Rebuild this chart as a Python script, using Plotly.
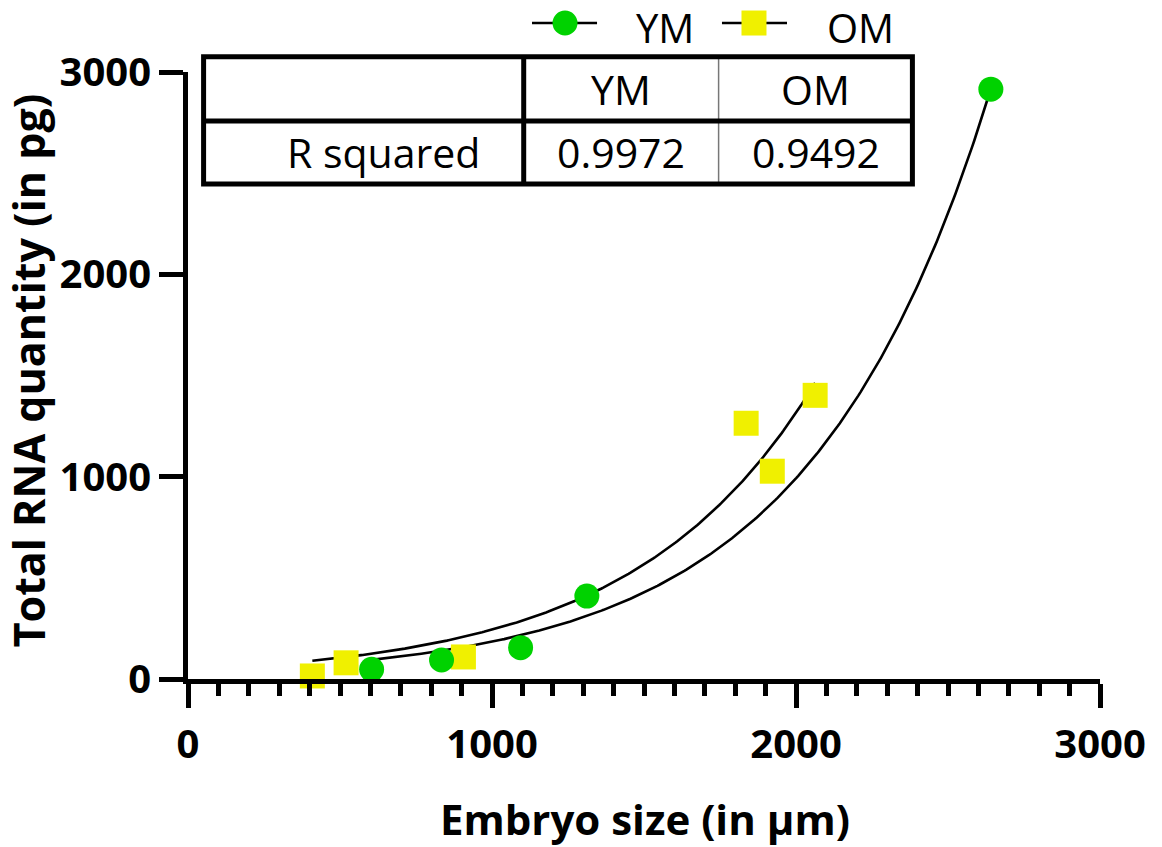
import numpy as np
import plotly.graph_objects as go

# ---------------- data ----------------
ym_size = [604, 834, 1094, 1312, 2641]
ym_rna = [48, 94, 155, 410, 2915]

om_size = [409, 520, 906, 1836, 1922, 2063]
om_rna = [15, 80, 109, 1264, 1027, 1402]

series_names = ["YM", "OM"]
table_header = ["", "YM", "OM"]
table_row = ["R squared", "0.9972", "0.9492"]

x_ticks = [0, 1000, 2000, 3000]
y_ticks = [0, 1000, 2000, 3000]
x_title = "Embryo size (in µm)"
y_title = "Total RNA quantity (in pg)"

GREEN = "#00D200"
YELLOW = "#F0F000"
FONT = "Open Sans"


def fit_exponential(x, y):
    """Least-squares fit of Y = Y0 * exp(k * X) (exponential growth)."""
    x = np.asarray(x, float)
    y = np.asarray(y, float)
    ks = np.linspace(1e-4, 5e-3, 49001)
    E = np.exp(np.outer(ks, x))
    y0 = (E @ y) / (E * E).sum(axis=1)
    sse = ((y[None, :] - y0[:, None] * E) ** 2).sum(axis=1)
    i = int(np.argmin(sse))
    return y0[i], ks[i]


def fit_curve(x, y, n=300):
    y0, k = fit_exponential(x, y)
    xs = np.linspace(min(x), max(x), n)
    return xs, y0 * np.exp(k * xs)


fig = go.Figure()

# fitted curves (drawn beneath the markers)
for xs_, ys_ in (fit_curve(ym_size, ym_rna), fit_curve(om_size, om_rna)):
    fig.add_trace(go.Scatter(x=xs_, y=ys_, mode="lines",
                             line=dict(color="black", width=2.6),
                             showlegend=False, hoverinfo="skip"))

# data points
fig.add_trace(go.Scatter(x=om_size, y=om_rna, mode="markers", name="OM",
                         marker=dict(symbol="square", size=25, color=YELLOW),
                         showlegend=False, cliponaxis=False))
fig.add_trace(go.Scatter(x=ym_size, y=ym_rna, mode="markers", name="YM",
                         marker=dict(symbol="circle", size=25, color=GREEN),
                         showlegend=False, cliponaxis=False))

shapes = []
annotations = []

# ---------------- legend (top, line-marker-line symbols) ----------------
leg_y = 1.0807
leg_items = [
    dict(name=series_names[0], l0=0.3772, l1=0.4485, cx=0.4134, tx=0.489, kind="circle", color=GREEN),
    dict(name=series_names[1], l0=0.5855, l1=0.6568, cx=0.6206, tx=0.6985, kind="rect", color=YELLOW),
]
for it in leg_items:
    shapes.append(dict(type="line", xref="paper", yref="paper", x0=it["l0"], x1=it["l1"],
                       y0=leg_y, y1=leg_y, line=dict(color="black", width=2.5)))
    shapes.append(dict(type=it["kind"], xref="paper", yref="paper",
                       xsizemode="pixel", ysizemode="pixel",
                       xanchor=it["cx"], yanchor=leg_y, x0=-12.5, x1=12.5, y0=-12.5, y1=12.5,
                       fillcolor=it["color"], line=dict(width=0)))
    annotations.append(dict(text=it["name"], x=it["tx"], y=1.0733, xref="paper", yref="paper",
                            showarrow=False, xanchor="left", yanchor="middle",
                            font=dict(family=FONT, size=40, color="black")))

# ---------------- inset table ----------------
tx0, tx1 = 0.0171, 0.7943
tc1, tc2 = 0.3681, 0.5818
ty_top, ty_mid, ty_bot = 1.0252, 0.9193, 0.8155
thick = dict(color="black", width=5)
shapes += [
    dict(type="line", xref="paper", yref="paper", x0=tc2, x1=tc2, y0=ty_top, y1=ty_bot,
         line=dict(color="#777777", width=1.5)),
    dict(type="line", xref="paper", yref="paper", x0=tx0, x1=tx1, y0=ty_mid, y1=ty_mid, line=thick),
    dict(type="line", xref="paper", yref="paper", x0=tc1, x1=tc1, y0=ty_top, y1=ty_bot, line=thick),
    dict(type="rect", xref="paper", yref="paper", x0=tx0, x1=tx1, y0=ty_bot, y1=ty_top, line=thick),
]
col_centers = [0.2143, (tc1 + tc2) / 2, (tc2 + tx1) / 2]
for label, cx in zip(table_header, col_centers):
    if label:
        annotations.append(dict(text=label, x=cx, y=(ty_top + ty_mid) / 2, xref="paper", yref="paper",
                                showarrow=False, xanchor="center", yanchor="middle",
                                font=dict(family=FONT, size=41, color="black")))
for label, cx in zip(table_row, col_centers):
    annotations.append(dict(text=label, x=cx, y=(ty_mid + ty_bot) / 2, xref="paper", yref="paper",
                            showarrow=False, xanchor="center", yanchor="middle",
                            font=dict(family=FONT, size=41, color="black")))

# ---------------- axis titles ----------------
annotations.append(dict(text=x_title, x=0.5011, y=-0.2306, xref="paper", yref="paper",
                        showarrow=False, xanchor="center", yanchor="middle",
                        font=dict(family=FONT, size=42, color="black", weight="bold")))
annotations.append(dict(text=y_title, x=-0.1751, y=0.509, xref="paper", yref="paper", textangle=-90,
                        showarrow=False, xanchor="center", yanchor="middle",
                        font=dict(family=FONT, size=43, color="black", weight="bold")))

axis_common = dict(showgrid=False, zeroline=False, showline=True, linecolor="black", linewidth=5,
                   ticks="outside", tickcolor="black", tickwidth=5, ticklen=24, automargin=False,
                   tickfont=dict(family=FONT, size=40, color="black", weight="bold"))

fig.update_layout(
    width=1162, height=847,
    margin=dict(l=188, r=62, t=72, b=168, autoexpand=False),
    paper_bgcolor="white", plot_bgcolor="white",
    showlegend=False,
    xaxis=dict(range=[0, 3000], tickvals=x_ticks, ticktext=[str(v) for v in x_ticks],
               minor=dict(dtick=100, ticklen=12, tickwidth=5, tickcolor="black", ticks="outside"),
               ticklabelstandoff=2, **axis_common),
    yaxis=dict(range=[0, 3000], tickvals=y_ticks, ticktext=[str(v) for v in y_ticks],
               **axis_common),
    shapes=shapes,
    annotations=annotations,
)

# remove the browser's default 8px body margin so the figure fills the window exactly
fig.write_html("out.html", config={"displayModeBar": False},
               post_script="document.body.style.margin='0px';document.body.style.overflow='hidden';")
